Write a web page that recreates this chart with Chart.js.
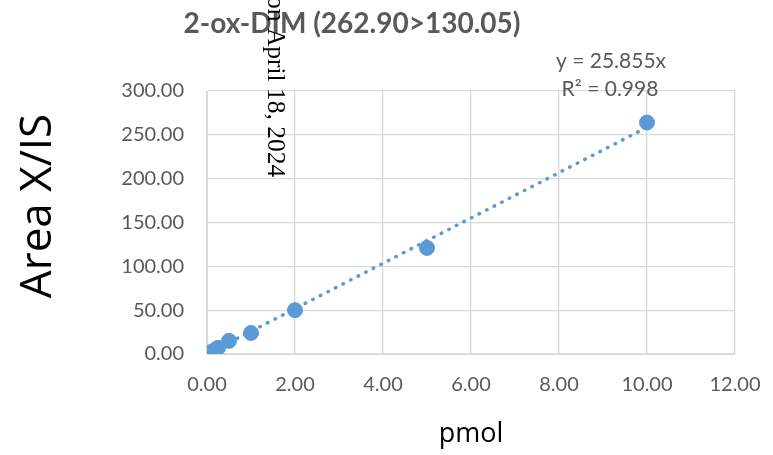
<!DOCTYPE html>
<html>
<head>
<meta charset="utf-8">
<script src="https://cdn.jsdelivr.net/npm/chart.js@4.4.0/dist/chart.umd.min.js"></script>
<style>
  html, body { margin: 0; padding: 0; background: #fff; }
  #wrap { width: 773px; height: 455px; }
</style>
</head>
<body>
<div id="wrap"><canvas id="calChart" width="773" height="455"></canvas></div>
<script>
// calibration points
const pmol = [0.02, 0.05, 0.1, 0.2, 0.25, 0.5, 1, 2, 5, 10];
const areaRatio = [0.5, 1.3, 2.6, 5.2, 7.0, 15.0, 24.0, 50.0, 121.0, 264.0];
const slope = 25.855;
const trendX = [0, 10];
const xTicks = [0, 2, 4, 6, 8, 10, 12];
const yTicks = [0, 50, 100, 150, 200, 250, 300];

const grey = '#595959';

// title, y axis title, trendline label and the rotated stamp text
const extraText = {
    id: 'extraText',
    afterDraw(chart) {
        const c = chart.ctx;
        c.save();
        c.fillStyle = grey;
        c.textAlign = 'center';
        c.textBaseline = 'middle';
        c.font = 'bold 28px Lato, sans-serif';
        c.fillText('2-ox-DIM (262.90>130.05)', 352, 24);
        c.font = '21px Lato, sans-serif';
        c.fillText('y = 25.855x', 611, 61);
        c.fillText('R\u00B2 = 0.998', 610, 89);

        // y axis title sits a bit above the plot centre
        c.save();
        c.translate(38, 206);
        c.rotate(-Math.PI / 2);
        c.fillStyle = '#000';
        c.font = '44px "Open Sans", sans-serif';
        c.fillText('Area X/IS', 0, 0);
        c.restore();

        c.translate(268, 0);
        c.rotate(Math.PI / 2);
        c.fillStyle = '#000';
        c.textAlign = 'left';
        c.textBaseline = 'alphabetic';
        c.font = '25.5px "Liberation Serif", serif';
        c.fillText('on April 18, 2024', -4, 0);
        c.restore();
    }
};

const ctx = document.getElementById('calChart').getContext('2d');
const calChart = new Chart(ctx, {
    type: 'scatter',
    data: {
        datasets: [{
            label: 'Linear',
            type: 'line',
            data: trendX.map(x => ({x: x, y: slope * x})),
            borderColor: '#5b9bd5',
            borderWidth: 3.5,
            borderDash: [0.5, 8],
            borderCapStyle: 'round',
            pointRadius: 0,
            fill: false,
        }, {
            label: 'Area X/IS',
            data: pmol.map((x, i) => ({x: x, y: areaRatio[i]})),
            backgroundColor: '#5b9bd5',
            borderColor: '#5b9bd5',
            pointRadius: 7.5,
            pointHoverRadius: 7.5,
        }]
    },
    options: {
        responsive: false,
        animation: false,
        layout: {
            padding: {top: 91, right: 38, left: 0, bottom: 0}
        },
        scales: {
            x: {
                type: 'linear',
                min: 0,
                max: 12,
                afterBuildTicks: s => { s.ticks = xTicks.map(v => ({value: v})); },
                afterFit: s => { s.height = 101; s.paddingLeft = 0; s.paddingRight = 0; },
                grid: {color: '#d9d9d9', lineWidth: 1.3, drawTicks: false},
                border: {color: '#d9d9d9'},
                ticks: {
                    color: grey,
                    padding: 19,
                    font: {family: 'Lato, sans-serif', size: 20},
                    callback: v => v.toFixed(2),
                },
                title: {
                    display: true,
                    text: 'pmol',
                    color: '#000',
                    padding: {top: 14},
                    font: {family: '"Open Sans", sans-serif', size: 27},
                }
            },
            y: {
                type: 'linear',
                min: 0,
                max: 300,
                afterBuildTicks: s => { s.ticks = yTicks.map(v => ({value: v})); },
                afterFit: s => { s.width = 207; s.paddingTop = 0; s.paddingBottom = 0; },
                grid: {color: '#d9d9d9', lineWidth: 1.3, drawTicks: false},
                border: {color: '#d9d9d9'},
                ticks: {
                    color: grey,
                    padding: 23,
                    font: {family: 'Lato, sans-serif', size: 20},
                    callback: v => v.toFixed(2),
                },
                title: {display: false}
            }
        },
        plugins: {
            legend: {display: false},
            title: {display: false},
            tooltip: {enabled: false}
        }
    },
    plugins: [extraText]
});
</script>
</body>
</html>
